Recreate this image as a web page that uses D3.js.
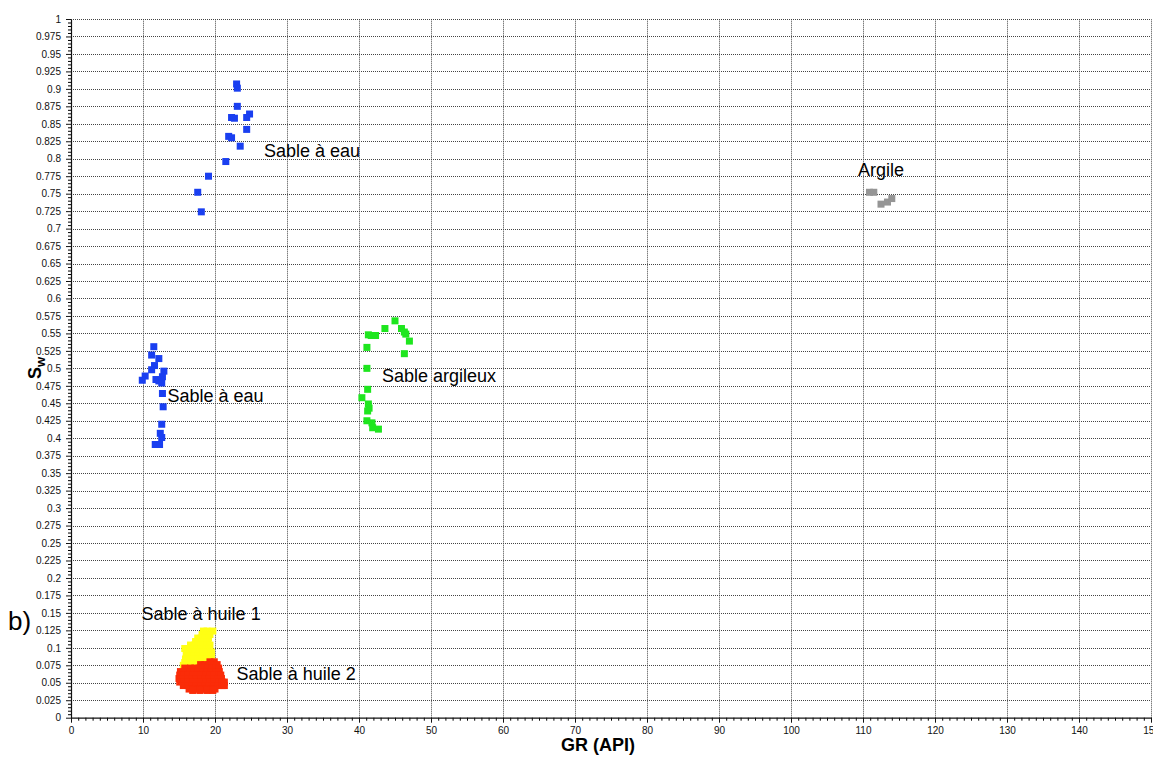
<!DOCTYPE html>
<html>
<head>
<meta charset="utf-8">
<script src="https://cdn.jsdelivr.net/npm/d3@7"></script>
<style>
  html, body { margin: 0; padding: 0; background: #fff; }
  svg { display: block; font-family: "Liberation Sans", Arial, sans-serif; }
</style>
</head>
<body>
<svg id="chart" width="1153" height="758"></svg>
<script>
// ---------- DATA ----------
const xTicks = [0, 10, 20, 30, 40, 50, 60, 70, 80, 90, 100, 110, 120, 130, 140, 150];
const yTicks = [0, 0.025, 0.05, 0.075, 0.1, 0.125, 0.15, 0.175, 0.2, 0.225, 0.25, 0.275, 0.3,
  0.325, 0.35, 0.375, 0.4, 0.425, 0.45, 0.475, 0.5, 0.525, 0.55, 0.575, 0.6, 0.625, 0.65,
  0.675, 0.7, 0.725, 0.75, 0.775, 0.8, 0.825, 0.85, 0.875, 0.9, 0.925, 0.95, 0.975, 1];

// Sable à eau (haut) : [GR, Sw]
const sableEauHaut = [
  [23.0, 0.907], [23.1, 0.901], [23.1, 0.875], [22.3, 0.859], [22.7, 0.858],
  [24.8, 0.864], [24.4, 0.859], [24.4, 0.842], [21.9, 0.832], [22.3, 0.830],
  [23.5, 0.818], [21.5, 0.796], [19.1, 0.775], [17.6, 0.752], [18.1, 0.724]
];
// Sable à eau (bas)
const sableEauBas = [
  [11.5, 0.531], [11.2, 0.519], [12.2, 0.514], [11.6, 0.504], [11.2, 0.498],
  [12.9, 0.496], [10.3, 0.489], [9.9, 0.483], [11.8, 0.484], [12.2, 0.482],
  [12.6, 0.479], [12.7, 0.488], [12.7, 0.464], [12.8, 0.445], [12.6, 0.420],
  [12.4, 0.407], [12.6, 0.401], [11.7, 0.391], [12.3, 0.391]
];
// Sable argileux
const sableArgileux = [
  [45.0, 0.568], [43.6, 0.557], [45.9, 0.557], [46.3, 0.552], [46.5, 0.549],
  [41.3, 0.548], [41.7, 0.547], [42.3, 0.547], [47.0, 0.539], [46.3, 0.521],
  [41.1, 0.530], [41.1, 0.500], [41.2, 0.470], [40.4, 0.458], [41.3, 0.449],
  [41.4, 0.443], [41.2, 0.439], [41.1, 0.425], [41.8, 0.422], [41.9, 0.415],
  [42.7, 0.413]
];
// Argile
const argile = [
  [110.9, 0.752], [111.5, 0.752], [112.5, 0.735], [113.4, 0.738], [114.0, 0.743]
];
// Sable à huile 1
const sableHuile1 = [
  [18.4, 0.124], [18.9, 0.124], [19.7, 0.124],
  [18.2, 0.119], [18.7, 0.119], [19.3, 0.119],
  [17.6, 0.114], [18.1, 0.114], [18.6, 0.114], [19.1, 0.114],
  [17.3, 0.109], [17.8, 0.109], [18.4, 0.109], [19.0, 0.109],
  [16.6, 0.104], [17.2, 0.104], [17.7, 0.104], [18.3, 0.104], [18.9, 0.104], [19.3, 0.104],
  [15.8, 0.099], [16.3, 0.099], [16.9, 0.099], [17.5, 0.099], [18.1, 0.099], [18.7, 0.099], [19.2, 0.099],
  [16.1, 0.094], [16.6, 0.094], [17.2, 0.094], [17.8, 0.094], [18.4, 0.094], [19.0, 0.094], [19.5, 0.094],
  [16.0, 0.089], [16.5, 0.089], [17.1, 0.089], [17.7, 0.089], [18.3, 0.089], [18.9, 0.089], [19.5, 0.089],
  [15.9, 0.084], [16.4, 0.084], [17.0, 0.084], [17.6, 0.084], [18.2, 0.084], [18.8, 0.084], [19.4, 0.084],
  [15.8, 0.079], [16.5, 0.079], [17.1, 0.079], [17.7, 0.079],
  [15.6, 0.075], [16.2, 0.075]
];
// Sable à huile 2
const sableHuile2 = [
  [19.3, 0.080], [19.9, 0.080],
  [18.0, 0.076], [18.6, 0.076], [19.2, 0.076], [19.8, 0.076], [20.3, 0.076],
  [15.8, 0.071], [16.6, 0.071], [17.2, 0.071], [17.8, 0.071], [18.4, 0.071], [19.0, 0.071], [19.6, 0.071], [20.2, 0.071], [20.5, 0.071],
  [15.2, 0.066], [15.9, 0.066], [16.5, 0.066], [17.1, 0.066], [17.7, 0.066], [18.3, 0.066], [18.9, 0.066], [19.5, 0.066], [20.1, 0.066], [20.6, 0.066],
  [15.1, 0.061], [15.7, 0.061], [16.3, 0.061], [16.9, 0.061], [17.5, 0.061], [18.1, 0.061], [18.7, 0.061], [19.3, 0.061], [19.9, 0.061], [20.5, 0.061], [20.8, 0.061],
  [15.0, 0.056], [15.6, 0.056], [16.2, 0.056], [16.8, 0.056], [17.4, 0.056], [18.0, 0.056], [18.6, 0.056], [19.2, 0.056], [19.8, 0.056], [20.4, 0.056], [20.9, 0.056],
  [15.1, 0.051], [15.7, 0.051], [16.3, 0.051], [16.9, 0.051], [17.5, 0.051], [18.1, 0.051], [18.7, 0.051], [19.3, 0.051], [19.9, 0.051], [20.5, 0.051], [21.0, 0.051], [21.3, 0.051],
  [15.6, 0.046], [16.2, 0.046], [16.8, 0.046], [17.4, 0.046], [18.0, 0.046], [18.6, 0.046], [19.2, 0.046], [19.8, 0.046], [20.4, 0.046], [21.0, 0.046], [21.3, 0.046],
  [16.4, 0.041], [17.0, 0.041], [17.6, 0.041], [18.2, 0.041], [18.8, 0.041], [19.4, 0.041], [20.0, 0.041],
  [16.9, 0.039], [17.9, 0.039], [18.9, 0.039], [19.7, 0.039]
];

// Annotations (text, GR, Sw of text baseline start)
const labelTexts = ["Sable à eau", "Argile", "Sable argileux", "Sable à eau", "Sable à huile 1", "Sable à huile 2"];
const labelGR =    [26.8, 109.3, 43.2, 13.4, 9.8, 23.0];
const labelSw =    [0.802, 0.775, 0.481, 0.452, 0.140, 0.054];

// ---------- CHART ----------
const W = 1153, H = 758;
const svg = d3.select("#chart");
const x = d3.scaleLinear().domain([0, 150]).range([71, 1151]);
const y = d3.scaleLinear().domain([0, 1]).range([717.7, 19]);

const series = [
  { data: sableEauHaut, color: "#1a3ff0" },
  { data: sableEauBas, color: "#1a3ff0" },
  { data: sableArgileux, color: "#1ee61e" },
  { data: argile, color: "#959595" },
  { data: sableHuile1, color: "#ffff14" },
  { data: sableHuile2, color: "#fa2c08" }
];

// grid
const grid = svg.append("g").attr("class", "grid");
grid.selectAll("line.h").data(yTicks.filter(d => d > 0)).join("line")
  .attr("x1", x(0)).attr("x2", x(150))
  .attr("y1", d => Math.round(y(d)) + 0.5).attr("y2", d => Math.round(y(d)) + 0.5)
  .attr("stroke", "#444").attr("stroke-width", 1).attr("stroke-dasharray", "1,1");
grid.selectAll("line.v").data(xTicks.filter(d => d > 0)).join("line")
  .attr("y1", y(0)).attr("y2", y(1))
  .attr("x1", d => Math.round(x(d)) + 0.5).attr("x2", d => Math.round(x(d)) + 0.5)
  .attr("stroke", "#444").attr("stroke-width", 1).attr("stroke-dasharray", "1,1");

// points
const ms = 7;
series.forEach(s => {
  svg.append("g").selectAll("rect").data(s.data).join("rect")
    .attr("x", d => x(d[0]) - ms / 2)
    .attr("y", d => y(d[1]) - ms / 2)
    .attr("width", ms).attr("height", ms)
    .attr("fill", s.color);
});

// minor ticks
const xMinor = d3.range(0, 151, 1).filter(v => v % 10 !== 0);
const yMinor = d3.range(0, 201, 1).map(i => i * 0.005).filter((v, i) => i % 5 !== 0);

svg.append("g").attr("transform", `translate(0,${y(0)})`)
  .call(d3.axisBottom(x).tickValues(xMinor).tickSize(3).tickFormat("").tickSizeOuter(0))
  .call(g => g.select(".domain").remove());
svg.append("g").attr("transform", `translate(${x(0)},0)`)
  .call(d3.axisLeft(y).tickValues(yMinor).tickSize(3).tickFormat("").tickSizeOuter(0))
  .call(g => g.select(".domain").remove());

// major axes
const xAxis = svg.append("g").attr("transform", `translate(0,${y(0)})`)
  .call(d3.axisBottom(x).tickValues(xTicks).tickSize(5).tickPadding(4).tickSizeOuter(0)
    .tickFormat(d3.format("d")));
const yAxis = svg.append("g").attr("transform", `translate(${x(0)},0)`)
  .call(d3.axisLeft(y).tickValues(yTicks).tickSize(5).tickPadding(5).tickSizeOuter(0)
    .tickFormat(d3.format(".3~f")));
[xAxis, yAxis].forEach(g => {
  g.selectAll("text").attr("font-size", "10px").attr("fill", "#111")
    .attr("font-family", "'Liberation Sans', Arial, sans-serif");
  g.selectAll(".tick line").attr("stroke", "#111");
  g.select(".domain").attr("stroke", "#111").attr("stroke-width", 1.2);
});

// annotations
svg.append("g").selectAll("text").data(labelTexts).join("text")
  .attr("x", (d, i) => x(labelGR[i]))
  .attr("y", (d, i) => y(labelSw[i]))
  .attr("font-size", "18px").attr("fill", "#000")
  .text(d => d);

// axis titles
svg.append("text")
  .attr("x", 598).attr("y", 751)
  .attr("text-anchor", "middle")
  .attr("font-size", "18px").attr("font-weight", "bold")
  .text("GR (API)");

const yt = svg.append("text")
  .attr("transform", "translate(41,368) rotate(-90)")
  .attr("text-anchor", "middle")
  .attr("font-size", "18px").attr("font-weight", "bold");
yt.append("tspan").text("S");
yt.append("tspan").attr("font-size", "13px").attr("dy", "4").text("w");

svg.append("text")
  .attr("x", 8).attr("y", 630)
  .attr("font-size", "26px")
  .text("b)");
</script>
</body>
</html>
